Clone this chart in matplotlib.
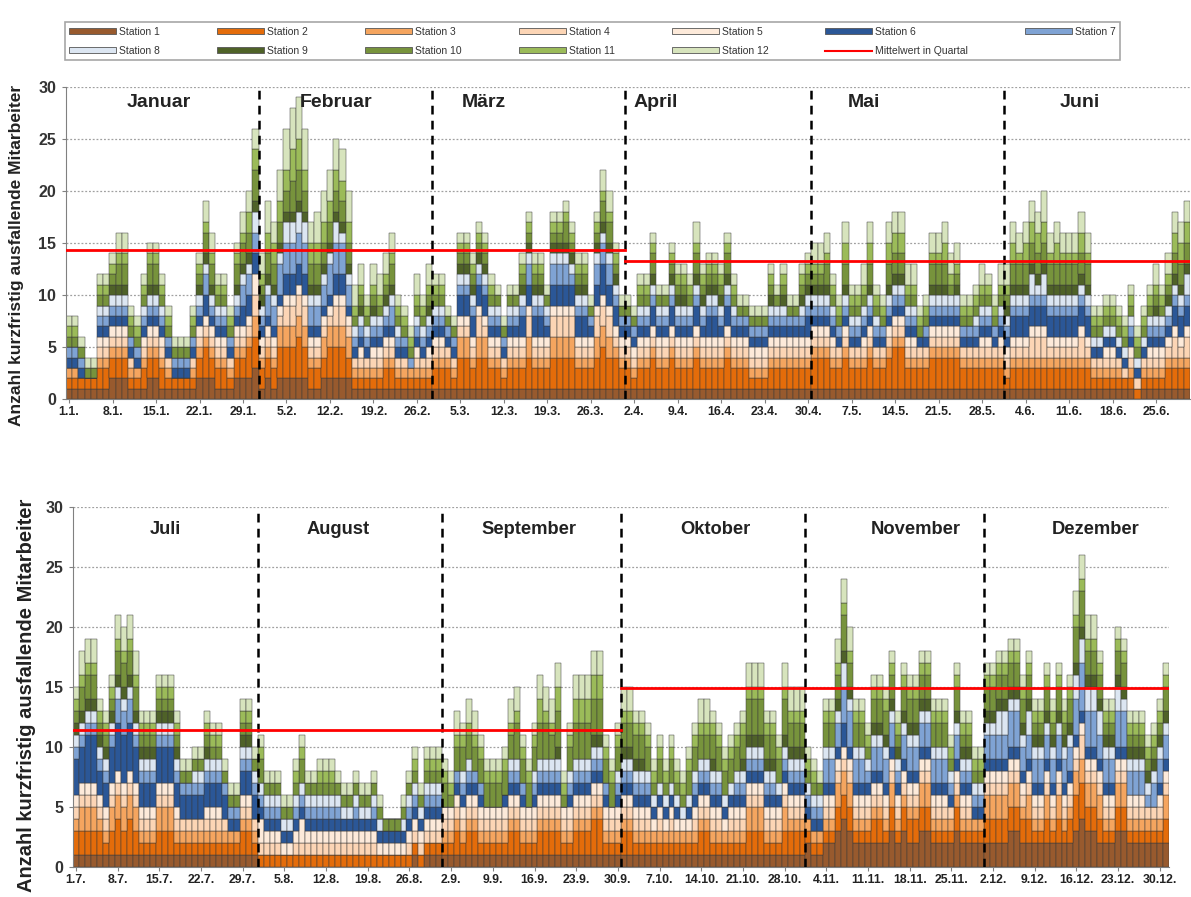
import numpy as np
import matplotlib
matplotlib.use('Agg')
import matplotlib.pyplot as plt
from matplotlib.patches import Patch
from matplotlib.lines import Line2D

plt.rcParams['font.family'] = ['Liberation Sans', 'DejaVu Sans']

# ---------------- data ----------------
stations = [f'Station {i}' for i in range(1, 13)]
station_colors = ['#985A2E', '#E46C0A', '#F5A55F', '#FCD5B5', '#FDEADA', '#2B5797',
                  '#7FA3D4', '#DCE6F2', '#4F6228', '#77933C', '#9BBB59', '#D7E4BD']
month_names = ['Januar', 'Februar', 'März', 'April', 'Mai', 'Juni',
               'Juli', 'August', 'September', 'Oktober', 'November', 'Dezember']
days_per_month = [31, 28, 31, 30, 31, 30, 31, 31, 30, 31, 30, 31]

# daily totals of short-notice absent employees
total_jan = [8, 8, 6, 4, 4, 12, 12, 14, 16, 16, 9, 8, 12, 15, 15, 12, 9, 6, 6, 6, 9, 14, 19, 16, 12, 12, 9, 15, 18, 20, 26]
total_feb = [14, 19, 17, 22, 26, 28, 29, 26, 17, 18, 20, 22, 25, 24, 20, 11, 13, 10, 13, 12, 14, 16, 10, 9, 7, 12, 10, 13]
total_mar = [12, 12, 9, 8, 16, 16, 14, 17, 16, 12, 11, 8, 11, 11, 14, 18, 14, 14, 11, 18, 18, 19, 17, 14, 14, 10, 18, 22, 20, 15, 10]
total_apr = [10, 9, 12, 12, 16, 11, 11, 15, 13, 13, 12, 17, 13, 14, 14, 13, 16, 12, 10, 10, 9, 9, 9, 13, 11, 13, 10, 10, 13, 14]
total_mai = [15, 15, 16, 12, 10, 17, 11, 11, 13, 17, 11, 10, 17, 18, 18, 13, 13, 9, 10, 16, 16, 17, 14, 15, 10, 10, 11, 13, 12, 10, 13]
total_jun = [13, 17, 16, 17, 19, 18, 20, 16, 17, 16, 16, 16, 18, 16, 9, 9, 10, 10, 9, 8, 11, 7, 9, 11, 13, 11, 14, 18, 17, 19]
total_jul = [15, 18, 19, 19, 14, 13, 16, 21, 20, 21, 18, 13, 13, 13, 16, 16, 16, 13, 9, 9, 10, 10, 13, 12, 12, 9, 7, 7, 14, 14, 10]
total_aug = [11, 8, 8, 8, 6, 6, 9, 11, 8, 8, 9, 9, 9, 8, 7, 7, 8, 7, 7, 8, 6, 4, 4, 4, 6, 8, 10, 7, 10, 10, 10]
total_sep = [9, 8, 13, 12, 14, 13, 11, 9, 9, 9, 10, 14, 15, 11, 9, 12, 16, 15, 14, 17, 8, 12, 16, 16, 16, 18, 18, 11, 9, 12]
total_okt = [15, 15, 13, 13, 12, 9, 11, 9, 11, 9, 8, 10, 12, 14, 14, 13, 12, 10, 11, 12, 13, 17, 17, 17, 13, 13, 11, 17, 15, 15, 15]
total_nov = [10, 9, 8, 14, 14, 19, 24, 20, 14, 14, 12, 16, 16, 15, 18, 13, 17, 16, 16, 18, 18, 14, 14, 14, 11, 17, 13, 13, 10, 10]
total_dez = [17, 17, 18, 18, 19, 19, 16, 18, 14, 14, 17, 14, 17, 14, 16, 23, 26, 21, 21, 18, 14, 14, 20, 19, 13, 13, 13, 11, 12, 14, 17]

monthly_totals = [total_jan, total_feb, total_mar, total_apr, total_mai, total_jun,
                  total_jul, total_aug, total_sep, total_okt, total_nov, total_dez]

# approximate station composition per month (relative band heights)
mix_jan = [1.5, 2.0, 1.0, 1.0, 1.0, 1.2, 1.2, 1.0, 0.6, 1.5, 1.2, 1.5]
mix_feb = [1.5, 2.5, 1.5, 1.5, 1.0, 1.5, 2.5, 1.5, 1.0, 2.0, 2.0, 3.0]
mix_mar = [1.0, 3.0, 1.5, 1.5, 1.0, 2.0, 1.5, 1.0, 0.8, 1.5, 1.0, 1.5]
mix_apr = [1.0, 2.5, 1.0, 1.0, 1.0, 1.5, 1.0, 1.0, 0.6, 1.5, 1.0, 1.2]
mix_mai = [1.0, 3.0, 1.2, 1.0, 0.8, 1.0, 1.0, 1.0, 0.6, 1.5, 1.5, 2.0]
mix_jun = [1.0, 1.5, 1.0, 1.2, 1.0, 1.5, 1.0, 1.2, 0.8, 1.5, 1.5, 2.0]
mix_jul = [1.0, 2.0, 1.5, 1.0, 0.8, 3.0, 1.2, 1.0, 0.8, 1.5, 1.0, 1.5]
mix_aug = [0.5, 1.0, 0.5, 0.8, 1.5, 1.0, 0.8, 1.0, 0.5, 1.5, 0.8, 1.0]
mix_sep = [1.0, 2.0, 1.0, 0.8, 1.0, 0.8, 0.8, 0.8, 0.5, 2.5, 1.5, 2.0]
mix_okt = [1.0, 2.0, 1.5, 0.8, 1.0, 1.0, 0.8, 1.2, 0.8, 2.5, 1.5, 2.0]
mix_nov = [2.5, 1.5, 1.5, 0.8, 0.8, 1.0, 2.0, 1.0, 0.8, 2.0, 1.0, 1.5]
mix_dez = [2.5, 2.0, 1.5, 1.0, 0.8, 0.8, 2.5, 1.5, 1.0, 2.0, 1.0, 1.5]
monthly_mix = [mix_jan, mix_feb, mix_mar, mix_apr, mix_mai, mix_jun,
               mix_jul, mix_aug, mix_sep, mix_okt, mix_nov, mix_dez]

quarter_means = [14.3, 13.3, 11.4, 14.9]

ticks_h1 = ['1.1.', '8.1.', '15.1.', '22.1.', '29.1.', '5.2.', '12.2.', '19.2.', '26.2.',
            '5.3.', '12.3.', '19.3.', '26.3.', '2.4.', '9.4.', '16.4.', '23.4.', '30.4.',
            '7.5.', '14.5.', '21.5.', '28.5.', '4.6.', '11.6.', '18.6.', '25.6.']
ticks_h2 = ['1.7.', '8.7.', '15.7.', '22.7.', '29.7.', '5.8.', '12.8.', '19.8.', '26.8.',
            '2.9.', '9.9.', '16.9.', '23.9.', '30.9.', '7.10.', '14.10.', '21.10.', '28.10.',
            '4.11.', '11.11.', '18.11.', '25.11.', '2.12.', '9.12.', '16.12.', '23.12.', '30.12.']

# month label positions (day index within half-year)
month_label_x_h1 = [14.5, 43, 66.8, 94.5, 128, 162.7]
month_label_x_h2 = [15, 44, 76, 107.4, 141, 171.3]


def split_total(total, weights):
    w = np.asarray(weights, dtype=float)
    raw = total * w / w.sum()
    base = np.floor(raw).astype(int)
    rem = int(total - base.sum())
    order = np.argsort(-(raw - base), kind='stable')[:rem]
    base[order] += 1
    return base


def build_half(month_idx):
    cols = []
    for m in month_idx:
        for t in monthly_totals[m]:
            cols.append(split_total(t, monthly_mix[m]))
    return np.array(cols).T  # (12, ndays)


fig = plt.figure(figsize=(11.91, 8.97), dpi=100)
ax1 = fig.add_axes([0.0554, 0.555, 0.944, 0.348])
ax2 = fig.add_axes([0.0613, 0.0334, 0.920, 0.4013])

# (axes, months, tick labels, month label x, means, month label y, month font, ylabel x, ylabel y, ylabel font)
halves = [
    (ax1, [0, 1, 2, 3, 4, 5], ticks_h1, month_label_x_h1, quarter_means[0:2], 28.5, 14, -0.037, 0.46, 12.5),
    (ax2, [6, 7, 8, 9, 10, 11], ticks_h2, month_label_x_h2, quarter_means[2:4], 28.1, 13.2, -0.034, 0.478, 14.5),
]

for ax, midx, tlabels, mlx, qmeans, mly, mfs, ylx, yly, ylfs in halves:
    vals = build_half(midx)
    nd = vals.shape[1]
    x = np.arange(nd)
    bottom = np.zeros(nd)
    for s in range(12):
        ax.bar(x, vals[s], bottom=bottom, width=1.0, color=station_colors[s],
               edgecolor='#3a3a3a', linewidth=0.35, zorder=2)
        bottom += vals[s]

    # month boundaries
    bounds = np.cumsum([days_per_month[m] for m in midx])
    for b in bounds[:-1]:
        ax.axvline(b - 0.5, color='black', linestyle=(0, (3.5, 2.5)), linewidth=1.8, zorder=4)

    # quarter means
    q_end = bounds[2]
    ax.plot([-0.5, q_end - 0.5], [qmeans[0], qmeans[0]], color='#FF0000', lw=2.0, zorder=5)
    ax.plot([q_end - 0.5, nd - 0.5], [qmeans[1], qmeans[1]], color='#FF0000', lw=2.0, zorder=5)

    for name_i, xm in zip(midx, mlx):
        ax.text(xm, mly, month_names[name_i], ha='center', va='center',
                fontsize=mfs, fontweight='bold', color='#222222', zorder=6)

    ax.set_xlim(-0.5, nd - 0.5)
    ax.set_ylim(0, 30)
    ax.set_yticks(range(0, 31, 5))
    ax.set_yticklabels([str(v) for v in range(0, 31, 5)], fontsize=11.5,
                       fontweight='bold', color='#333333')
    ax.set_xticks(np.arange(0, 7 * len(tlabels), 7))
    ax.set_xticklabels(tlabels, fontsize=8.8, fontweight='bold', color='#222222')
    ax.tick_params(axis='x', length=3, color='#808080', pad=2)
    ax.tick_params(axis='y', length=3, color='#808080', pad=4)
    ax.yaxis.grid(True, linestyle=(0, (1.5, 1.5)), color='#A0A0A0', linewidth=0.9)
    ax.set_axisbelow(True)
    for sp in ['top', 'right']:
        ax.spines[sp].set_visible(False)
    for sp in ['left', 'bottom']:
        ax.spines[sp].set_color('#808080')
    ax.set_ylabel('Anzahl kurzfristig ausfallende Mitarbeiter', fontsize=ylfs,
                  fontweight='bold', color='#222222')
    ax.yaxis.set_label_coords(ylx, yly)

# legend (row-major order in 7 columns)
handles = [Patch(facecolor=c, edgecolor='#555555', linewidth=0.6) for c in station_colors]
mean_handle = Line2D([0], [0], color='#FF0000', lw=1.5)
order = [(handles[0], stations[0]), (handles[7], stations[7]),
         (handles[1], stations[1]), (handles[8], stations[8]),
         (handles[2], stations[2]), (handles[9], stations[9]),
         (handles[3], stations[3]), (handles[10], stations[10]),
         (handles[4], stations[4]), (handles[11], stations[11]),
         (handles[5], stations[5]), (mean_handle, 'Mittelwert in Quartal'),
         (handles[6], stations[6])]
leg = fig.legend([h for h, _ in order], [l for _, l in order], ncol=7,
                 loc='lower left', bbox_to_anchor=(0.0546, 0.933, 0.886, 0.061),
                 mode='expand', fontsize=7.5, frameon=True, fancybox=False,
                 edgecolor='#909090', handlelength=4.5, handleheight=0.45,
                 handletextpad=0.3, columnspacing=1.0, borderaxespad=0.0,
                 labelspacing=0.9)
leg.get_frame().set_linewidth(1.2)
for t in leg.get_texts():
    t.set_color('#333333')

fig.savefig('out.png', dpi=100)
